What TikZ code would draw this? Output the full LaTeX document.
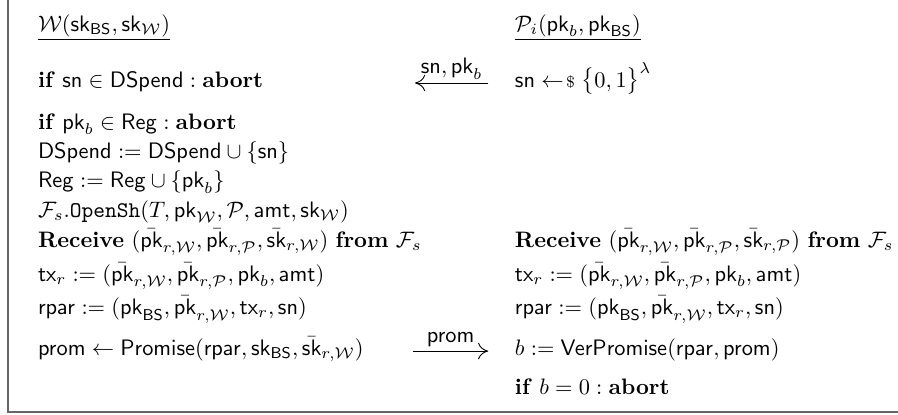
\documentclass[tikz,border=0pt]{standalone}
\usepackage{amsmath,amssymb}
\usepackage{tikz}
\usetikzlibrary{arrows.meta,positioning}
\newcommand{\pkk}{\mathsf{pk}}
\newcommand{\skk}{\mathsf{sk}}
\newcommand{\pkr}[1]{\bar{\mathsf{pk}}_{r,#1}}
\newcommand{\skr}[1]{\bar{\mathsf{sk}}_{r,#1}}
\newcommand{\Wc}{\mathcal{W}}
\newcommand{\Pc}{\mathcal{P}}
\newcommand{\Fsf}{\mathcal{F}_s}
\tikzset{
  row/.style={anchor=base west, inner sep=0pt, outer sep=0pt},
  msg/.style={-{Computer Modern Rightarrow[length=1.6mm,width=2.6mm]}, line width=0.4pt},
  msglbl/.style={above=1.5pt, inner sep=0pt, font=\normalsize},
  frm/.style={draw=black!60, line width=0.8pt},
}
\begin{document}
\begin{tikzpicture}[x=1cm,y=1cm]
\useasboundingbox (0,0) rectangle (14.107,-6.504);
\draw[frm] (0.126,0) -- (0.126,-6.47) -- (14.107,-6.47);
% witness side
\node[row] (wh) at (0.597,-0.49) {\underline{$\Wc(\skk_{\mathsf{BS}},\skk_{\Wc})$}};
\node[row] (w1) at (0.597,-1.367) {\textbf{if} $\mathsf{sn}\in\mathsf{DSpend}:\mathbf{abort}$};
\node[row] (w2) at (0.597,-2.027) {\textbf{if} $\pkk_b\in\mathsf{Reg}:\mathbf{abort}$};
\node[row] (w3) at (0.597,-2.490) {$\mathsf{DSpend}:=\mathsf{DSpend}\cup\{\mathsf{sn}\}$};
\node[row] (w4) at (0.597,-2.953) {$\mathsf{Reg}:=\mathsf{Reg}\cup\{\pkk_b\}$};
\node[row] (w5) at (0.597,-3.417) {$\Fsf.\mathtt{OpenSh}(T,\pkk_{\Wc},\Pc,\mathsf{amt},\skk_{\Wc})$};
\node[row] (w6) at (0.597,-3.880) {\textbf{Receive} $(\pkr{\Wc},\pkr{\Pc},\skr{\Wc})$ \textbf{from} $\Fsf$};
\node[row] (w7) at (0.597,-4.422) {$\mathsf{tx}_r:=(\pkr{\Wc},\pkr{\Pc},\pkk_b,\mathsf{amt})$};
\node[row] (w8) at (0.597,-4.941) {$\mathsf{rpar}:=(\pkk_{\mathsf{BS}},\pkr{\Wc},\mathsf{tx}_r,\mathsf{sn})$};
\node[row] (w9) at (0.597,-5.577) {$\mathsf{prom}\leftarrow\mathsf{Promise}(\mathsf{rpar},\skk_{\mathsf{BS}},\skr{\Wc})$};
% party side
\node[row] (ph) at (8.09,-0.49) {\underline{$\Pc_i(\pkk_b,\pkk_{\mathsf{BS}})$}};
\node[row] (p1) at (8.09,-1.367) {$\mathsf{sn}\mathrel{\leftarrow\!{\scriptstyle\$}}\bigl\{0,1\bigr\}^{\lambda}$};
\node[row] (p6) at (8.09,-3.880) {\textbf{Receive} $(\pkr{\Wc},\pkr{\Pc},\skr{\Pc})$ \textbf{from} $\Fsf$};
\node[row] (p7) at (8.09,-4.422) {$\mathsf{tx}_r:=(\pkr{\Wc},\pkr{\Pc},\pkk_b,\mathsf{amt})$};
\node[row] (p8) at (8.09,-4.941) {$\mathsf{rpar}:=(\pkk_{\mathsf{BS}},\pkr{\Wc},\mathsf{tx}_r,\mathsf{sn})$};
\node[row] (p9) at (8.09,-5.577) {$b:=\mathsf{VerPromise}(\mathsf{rpar},\mathsf{prom})$};
\node[row] (p10) at (8.09,-6.190) {\textbf{if} $b=0:\mathbf{abort}$};
% messages
\coordinate (m1a) at (7.67,-1.304);
\coordinate (m1b) at (6.52,-1.304);
\coordinate (m2a) at (6.49,-5.515);
\coordinate (m2b) at (7.67,-5.515);
\draw[msg] (m1a) -- (m1b) node[msglbl, midway] (l1) {$\mathsf{sn},\pkk_b$};
\draw[msg] (m2a) -- (m2b) node[msglbl, midway] (l2) {$\mathsf{prom}$};
\end{tikzpicture}
\end{document}
